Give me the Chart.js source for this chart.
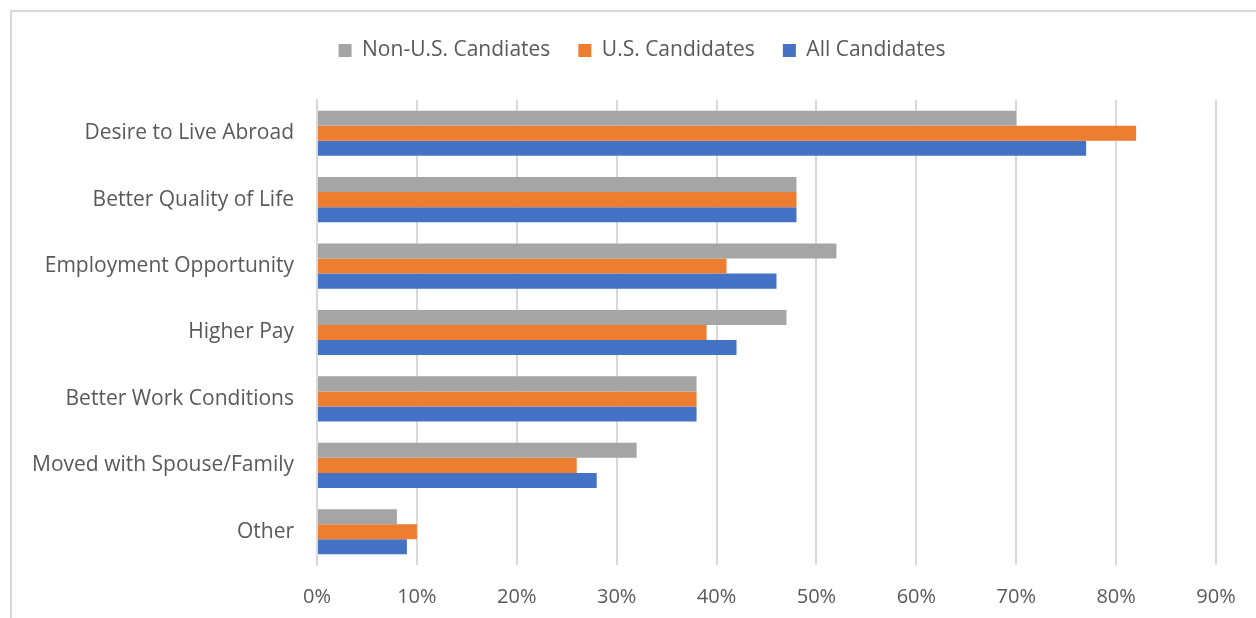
<!DOCTYPE html>
<html>
<head>
<meta charset="utf-8">
<script src="https://cdn.jsdelivr.net/npm/chart.js@4"></script>
<style>
  html, body { margin: 0; padding: 0; background: #fff; overflow: hidden; }
  #frame { position: absolute; left: 10px; top: 10px; width: 1300px; height: 700px; border: 2px solid #d9d9d9; }
  #wrap { position: absolute; left: 0; top: 0; width: 1256px; height: 618px; }
</style>
</head>
<body>
<div id="frame"></div>
<div id="wrap"><canvas id="chart" width="1256" height="618"></canvas></div>
<script>
const categories = [
  "Desire to Live Abroad",
  "Better Quality of Life",
  "Employment Opportunity",
  "Higher Pay",
  "Better Work Conditions",
  "Moved with Spouse/Family",
  "Other"
];
const nonUSValues = [70, 48, 52, 47, 38, 32, 8];
const usValues = [82, 48, 41, 39, 38, 26, 10];
const allValues = [77, 48, 46, 42, 38, 28, 9];
const seriesNames = ["Non-U.S. Candiates", "U.S. Candidates", "All Candidates"];
const seriesColors = ["#a5a5a5", "#ed7d31", "#4472c4"];

const FONT = "'Open Sans', sans-serif";
const TEXT = "#595959";

// grow the legend so the plot starts at the right height, and nudge it right
const legendTweak = {
  id: "legendTweak",
  beforeInit(chart) {
    const legend = chart.legend;
    const fit = legend.fit;
    legend.fit = function () {
      fit.bind(legend)();
      this.height = 88;
    };
    const draw = legend.draw;
    legend.draw = function () {
      const ctx = chart.ctx;
      ctx.save();
      ctx.translate(28, 0);
      draw.bind(legend)();
      ctx.restore();
    };
  }
};

new Chart(document.getElementById("chart").getContext("2d"), {
  type: "bar",
  data: {
    labels: categories,
    datasets: [
      { label: seriesNames[0], data: nonUSValues, backgroundColor: seriesColors[0] },
      { label: seriesNames[1], data: usValues, backgroundColor: seriesColors[1] },
      { label: seriesNames[2], data: allValues, backgroundColor: seriesColors[2] }
    ]
  },
  options: {
    indexAxis: "y",
    responsive: false,
    animation: false,
    layout: { padding: { top: 12, right: 40, left: 12, bottom: 0 } },
    datasets: { bar: { barPercentage: 1, categoryPercentage: 0.68 } },
    plugins: {
      legend: {
        position: "top",
        labels: {
          font: { family: FONT, size: 21 },
          color: TEXT,
          boxWidth: 13,
          boxHeight: 13,
          padding: 28
        }
      },
      tooltip: { enabled: false }
    },
    scales: {
      x: {
        min: 0,
        max: 90,
        ticks: {
          stepSize: 10,
          callback: (v) => v + "%",
          font: { family: FONT, size: 20 },
          color: TEXT,
          padding: 20
        },
        grid: { color: "#d9d9d9", lineWidth: 2, drawTicks: false },
        border: { display: false },
        afterFit(scale) { scale.height = 53; }
      },
      y: {
        ticks: {
          font: { family: FONT, size: 21 },
          color: TEXT,
          padding: 23
        },
        grid: { display: false, drawTicks: false },
        border: { display: true, color: "#d9d9d9", width: 2 },
        afterFit(scale) { scale.width = 317 - 12; }
      }
    }
  },
  plugins: [legendTweak]
});
</script>
</body>
</html>
